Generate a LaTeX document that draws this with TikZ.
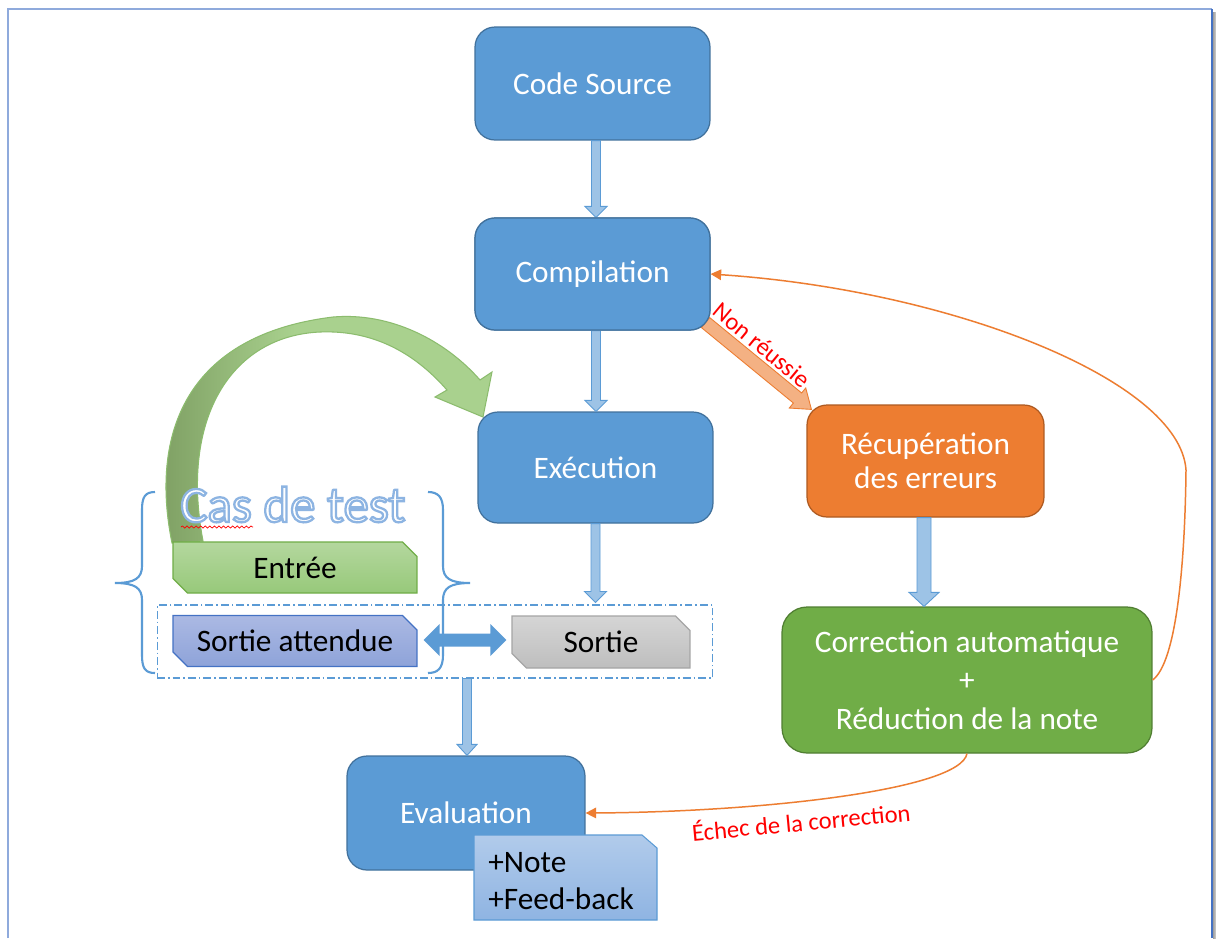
\documentclass[tikz,border=0pt]{standalone}
\usepackage{fontspec}
\setmainfont{Carlito}
\usetikzlibrary{calc,shapes.misc,arrows.meta,decorations.pathmorphing}

\definecolor{boxblue}{HTML}{5B9BD5}
\definecolor{boxblueline}{HTML}{41719C}
\definecolor{errorange}{HTML}{ED7D31}
\definecolor{errorangeline}{HTML}{AE5A21}
\definecolor{fixgreen}{HTML}{70AD47}
\definecolor{fixgreenline}{HTML}{507E32}
\definecolor{arrowfill}{HTML}{9DC3E6}
\definecolor{framelight}{HTML}{8FAADC}
\definecolor{framedark}{HTML}{4472C4}
\definecolor{inA}{HTML}{B4D79E}
\definecolor{inB}{HTML}{97C97A}
\definecolor{inLine}{HTML}{70AD47}
\definecolor{expA}{HTML}{ABB9E3}
\definecolor{expB}{HTML}{8EA3D9}
\definecolor{expLine}{HTML}{4472C4}
\definecolor{outA}{HTML}{D5D5D5}
\definecolor{outB}{HTML}{BEBEBE}
\definecolor{outLine}{HTML}{A5A5A5}
\definecolor{noteA}{HTML}{B1CBEB}
\definecolor{noteB}{HTML}{8FB4E2}
\definecolor{curveLight}{HTML}{A9D18E}
\definecolor{curveDark}{HTML}{7E9F63}
\definecolor{curveLine}{HTML}{8CBC6E}
\definecolor{failarrow}{HTML}{F4B183}
\definecolor{labelred}{HTML}{FF0000}

% white letters stroked in light blue (PDF text render mode 2)
\newcommand\outlinedtext[1]{{\color{white}%
  \special{pdf:literal direct 2 Tr 1.3 w 0.553 0.706 0.886 RG}#1%
  \special{pdf:literal direct 0 Tr}}}

% block arrow from #2 to the tip #3: half shaft #4, half head #5, head length #6
\newcommand\blockarrow[6][]{%
  \coordinate (ba-s) at (#2);
  \coordinate (ba-t) at (#3);
  \coordinate (ba-b) at ($(ba-t)!#6!(ba-s)$);
  \filldraw[#1] ($(ba-s)!#4!90:(ba-t)$) -- ($(ba-b)!#4!90:(ba-t)$)
    -- ($(ba-b)!#5!90:(ba-t)$) -- (ba-t) -- ($(ba-b)!#5!-90:(ba-t)$)
    -- ($(ba-b)!#4!-90:(ba-t)$) -- ($(ba-s)!#4!-90:(ba-t)$) -- cycle;}

% outline of the green curved arrow
\def\greenband{(172,543) .. controls (150,435) and (185,335) .. (333,317)
  .. controls (390,312) and (445,340) .. (480,380) -- (492,372) -- (483,417)
  -- (435,397) -- (447,390) .. controls (412,350) and (370,330) .. (320,332)
  .. controls (230,336) and (180,420) .. (203,541) -- cycle}

\begin{document}
\begin{tikzpicture}[x=0.02cm,y=-0.02cm,
  stepbox/.style={rounded corners=0.4cm, fill=boxblue, draw=boxblueline,
    line width=0.7pt, text=white, font=\fontsize{17.8}{21.5}\selectfont,
    align=center, minimum width=4.7cm, inner sep=0pt},
  casebox/.style={chamfered rectangle,
    chamfered rectangle corners={north east,south west},
    chamfered rectangle xsep=0.16cm, chamfered rectangle ysep=0.13cm,
    minimum width=4.88cm, minimum height=1.02cm, inner sep=0pt,
    line width=0.7pt, text=black, font=\fontsize{17.8}{21.5}\selectfont},
  notetext/.style={align=left, inner sep=0pt, text=black,
    font=\fontsize{17.8}{21.5}\selectfont},
  noteshape/.style={top color=noteA, bottom color=noteB, draw=boxblue, line width=0.6pt},
  blockarr/.style={fill=arrowfill, draw=boxblue, line width=0.5pt},
  failblock/.style={fill=failarrow, draw=errorange, line width=0.5pt},
  loopline/.style={draw=errorange, line width=0.85pt,
    -{Triangle[length=6pt,width=6pt]}},
  redlabel/.style={text=labelred, font=\fontsize{14}{16}\selectfont, inner sep=0pt},
  bracestyle/.style={draw=boxblue, line width=1.2pt},
  groupbox/.style={draw=boxblue, line width=0.6pt,
    dash pattern=on 4.5pt off 1.7pt on 0.9pt off 1.7pt,
    minimum width=11.12cm, minimum height=1.46cm, inner sep=0pt}
]
\useasboundingbox (0,0) rectangle (1216,938);
\fill[white] (0,0) rectangle (1216,938);

% page frame with its shadow
\shade[left color=gray!75, right color=gray!35] (1213,12) rectangle (1216,938);
\draw[framelight, line width=1.2pt] (8,938) -- (8,9) -- (1212,9);
\draw[framedark, line width=0.8pt] (1212,9) -- (1212,938);

% green curved arrow from the test input to the execution
\begin{scope}
  \clip \greenband;
  \fill[curveLight] (150,300) rectangle (500,560);
  \shade[left color=curveDark, right color=curveLight] (158,300) rectangle (295,560);
\end{scope}
\draw[curveLine, line width=0.6pt] \greenband;

% dash-dotted group around the two outputs
\node[groupbox] (dbox) at (435,641.5) {};

% main flow nodes
\node[stepbox, minimum height=2.26cm] (cs) at (592.5,83.5) {Code Source};
\node[stepbox, minimum height=2.24cm] (comp) at (592.5,274) {Compilation};
\node[stepbox, minimum height=2.22cm] (exe) at (595.5,467.5) {Exécution};
\node[stepbox, fill=errorange, draw=errorangeline, minimum width=4.74cm,
  minimum height=2.24cm, font=\fontsize{17.8}{19.5}\selectfont]
  (rec) at (925.5,461) {Récupération\\des erreurs};
\node[stepbox, rounded corners=0.5cm, fill=fixgreen, draw=fixgreenline,
  minimum width=7.4cm, minimum height=2.92cm, font=\fontsize{17.8}{21.8}\selectfont]
  (corr) at (967,680) {Correction automatique\\+\\Réduction de la note};
\node[stepbox, minimum width=4.76cm, minimum height=2.28cm] (eval) at (466,813) {Evaluation};

% result card with a snipped corner, overlapping the evaluation
\coordinate (notec) at ($(eval)+(99.5,64.5)$);
\shade[noteshape] ($(notec)+(-91.5,42.5)$) -- ($(notec)+(-91.5,-42.5)$)
  -- ($(notec)+(76.5,-42.5)$) -- ($(notec)+(91.5,-29.5)$)
  -- ($(notec)+(91.5,42.5)$) -- cycle;
\node[notetext, anchor=west] (note) at ($(notec)+(-77.5,3.5)$) {+Note\\+Feed-back};

% test case boxes
\node[casebox, top color=inA, bottom color=inB, draw=inLine] (in) at (295,567.5) {Entrée};
\node[casebox, top color=expA, bottom color=expB, draw=expLine] (sa) at (295,641) {Sortie attendue};
\node[casebox, top color=outA, bottom color=outB, draw=outLine,
  minimum width=3.56cm, minimum height=1.04cm] (so) at (601,642) {Sortie};

% block arrows of the flow
\blockarrow[blockarr]{$(cs.south)+(3.5,0)$}{$(comp.north)+(3.5,0)$}{0.09cm}{0.22cm}{0.22cm}
\blockarrow[blockarr]{$(comp.south)+(3.5,0)$}{$(exe.north)+(0.5,0)$}{0.09cm}{0.22cm}{0.22cm}
\blockarrow[blockarr]{exe.south}{$(exe.south |- dbox.north)+(0,-2)$}{0.09cm}{0.22cm}{0.22cm}
\blockarrow[blockarr]{$(rec.south)+(-1.5,0)$}{$(rec.south |- corr.north)+(-1.5,0)$}{0.14cm}{0.3cm}{0.28cm}
\blockarrow[blockarr]{$(dbox.south)+(32,0)$}{$(eval.north)+(1,0)$}{0.09cm}{0.2cm}{0.22cm}

% failed compilation: the arrow leaves from behind the compilation box
\blockarrow[failblock]{$(comp.south east)+(-5,-8)$}{$(rec.north west)+(5,5)$}{0.13cm}{0.26cm}{0.36cm}
\node[stepbox, minimum height=2.24cm] at (comp) {Compilation};
\node[redlabel, rotate=-39.5] (nr) at (762,345) {Non réussie};

% comparison of expected and actual output
\coordinate (da-l) at ($(sa.east)+(6,-1)$);
\coordinate (da-r) at ($(so.west)+(-5,-2)$);
\fill[boxblue] (da-l) -- ++(16,-16) -- ++(0,9.5) -- ($(da-r)+(-16,-6.5)$)
  -- ++(0,-9.5) -- (da-r) -- ++(-16,16) -- ++(0,-9.5)
  -- ($(da-l)+(16,6.5)$) -- ++(0,9.5) -- cycle;

% braces around the test case
\draw[bracestyle] (155,492) .. controls (145,492) and (142,497) .. (142,510)
  -- (142,566) .. controls (142,578) and (135,583) .. (115,583)
  .. controls (135,583) and (142,588) .. (142,600)
  -- (142,655) .. controls (142,668) and (145,673) .. (155,673);
\draw[bracestyle] (428,492) .. controls (438,492) and (443,497) .. (443,510)
  -- (443,566) .. controls (443,578) and (450,583) .. (470,583)
  .. controls (450,583) and (443,588) .. (443,600)
  -- (443,655) .. controls (443,668) and (438,673) .. (428,673);

% title of the test case
\node[anchor=base west, inner sep=0pt, font=\fontsize{29}{34}\selectfont]
  (cdt) at (180,522) {\outlinedtext{Cas de test}};
\draw[labelred, line width=0.4pt, decorate,
  decoration={snake, amplitude=0.6pt, segment length=2.6pt}] (181,527) -- (253,527);

% feedback loops
\draw[loopline] (corr.east) .. controls (1177,662) and (1185,560) .. (1186,470)
  .. controls (1180,380) and (950,290) .. (comp.east);
\draw[loopline] (corr.south) .. controls (960,790) and (760,812) .. (eval.east);
\node[redlabel, rotate=5.3] (ec) at (801,821) {Échec de la correction};
\end{tikzpicture}
\end{document}
